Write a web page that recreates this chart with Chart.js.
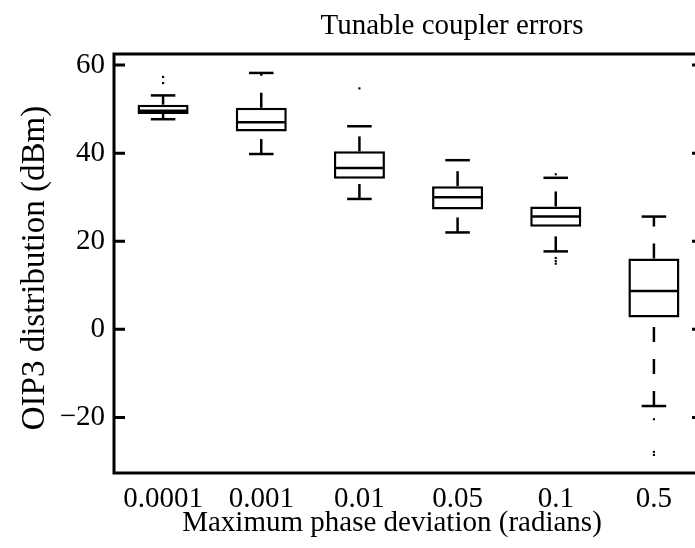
<!DOCTYPE html>
<html>
<head>
<meta charset="utf-8">
<script src="https://cdn.jsdelivr.net/npm/chart.js@4/dist/chart.umd.min.js"></script>
<style>
  html, body { margin: 0; padding: 0; background: #fff; overflow: hidden; }
  canvas { display: block; }
</style>
</head>
<body>
<canvas id="box-chart" width="712" height="548"></canvas>
<script>
// Box plot values (dBm)
const categories = ['0.0001', '0.001', '0.01', '0.05', '0.1', '0.5'];
const lowerWhisker = [47.7, 39.8, 29.6, 22.0, 17.7, -17.4];
const q1 = [48.9, 44.9, 34.2, 27.2, 23.3, 2.7];
const medians = [49.6, 47.0, 36.6, 30.0, 25.6, 8.7];
const q3 = [51.0, 50.3, 40.4, 32.5, 27.9, 16.1];
const upperWhisker = [53.1, 58.2, 46.1, 38.4, 34.4, 25.6];
const outliers = [[57.3, 55.9], [], [54.7], [], [35.2, 16.2, 15.5, 14.9], [-20.4, -27.8, -28.5]];
const yTicks = [-20, 0, 20, 40, 60];

const FONT = 'Liberation Serif, Times New Roman, serif';

// whiskers, medians, caps, frame and inward ticks
const boxPlotPlugin = {
    id: 'boxPlot',
    afterDatasetsDraw(chart) {
        const ctx = chart.ctx;
        const x = chart.scales.x;
        const y = chart.scales.y;
        const area = chart.chartArea;
        const step = (area.right - area.left) / categories.length;
        ctx.save();
        ctx.strokeStyle = '#000';
        ctx.lineCap = 'butt';
        categories.forEach((c, i) => {
            const cx = x.getPixelForValue(i);
            const halfBox = step * 0.25 - 1;
            const halfCap = step * 0.125;
            // median
            ctx.lineWidth = 2.5;
            ctx.setLineDash([]);
            ctx.beginPath();
            ctx.moveTo(cx - halfBox, y.getPixelForValue(medians[i]));
            ctx.lineTo(cx + halfBox, y.getPixelForValue(medians[i]));
            ctx.stroke();
            // dashed whiskers, drawn upward from their lower end
            ctx.setLineDash([15, 17]);
            ctx.beginPath();
            ctx.moveTo(cx, y.getPixelForValue(q3[i]));
            ctx.lineTo(cx, y.getPixelForValue(upperWhisker[i]));
            ctx.stroke();
            ctx.beginPath();
            ctx.moveTo(cx, y.getPixelForValue(lowerWhisker[i]));
            ctx.lineTo(cx, y.getPixelForValue(q1[i]));
            ctx.stroke();
            // caps
            ctx.setLineDash([]);
            [upperWhisker[i], lowerWhisker[i]].forEach(v => {
                const py = y.getPixelForValue(v);
                ctx.beginPath();
                ctx.moveTo(cx - halfCap, py);
                ctx.lineTo(cx + halfCap, py);
                ctx.stroke();
            });
        });
        // axes box
        ctx.lineWidth = 3;
        ctx.strokeRect(area.left, area.top, area.right - area.left, area.bottom - area.top);
        // ticks pointing inward on left and right
        yTicks.forEach(t => {
            const py = y.getPixelForValue(t);
            ctx.beginPath();
            ctx.moveTo(area.left, py);
            ctx.lineTo(area.left + 11, py);
            ctx.moveTo(area.right, py);
            ctx.lineTo(area.right - 11, py);
            ctx.stroke();
        });
        ctx.restore();
    },
    afterDraw(chart) {
        const ctx = chart.ctx;
        ctx.save();
        ctx.fillStyle = '#000';
        ctx.textAlign = 'center';
        ctx.textBaseline = 'alphabetic';
        ctx.font = '29px ' + FONT;
        ctx.fillText('Tunable coupler errors', 452, 34);
        ctx.fillText('Maximum phase deviation (radians)', 392, 531);
        ctx.translate(44, 268);
        ctx.rotate(-Math.PI / 2);
        ctx.font = '33px ' + FONT;
        ctx.fillText('OIP3 distribution (dBm)', 0, 0);
        ctx.restore();
    }
};

const outlierPoints = [];
outliers.forEach((list, i) => list.forEach(v => outlierPoints.push({ x: categories[i], y: v })));

new Chart(document.getElementById('box-chart'), {
    type: 'bar',
    data: {
        labels: categories,
        datasets: [{
            label: 'IQR',
            data: categories.map((c, i) => [q1[i], q3[i]]),
            backgroundColor: '#fff',
            borderColor: '#000',
            borderWidth: 2.5,
            borderSkipped: false,
            barPercentage: 0.52,
            categoryPercentage: 1.0,
            order: 2
        }, {
            type: 'line',
            label: 'outliers',
            data: outlierPoints,
            showLine: false,
            pointStyle: 'rect',
            pointRadius: 1.5,
            pointBackgroundColor: '#000',
            pointBorderWidth: 0,
            order: 1
        }]
    },
    options: {
        responsive: false,
        animation: false,
        layout: { padding: { top: 54, right: 9, left: 0, bottom: 0 } },
        plugins: {
            legend: { display: false },
            tooltip: { enabled: false },
            title: { display: false }
        },
        scales: {
            x: {
                type: 'category',
                offset: true,
                grid: { display: false, drawTicks: false },
                border: { display: false },
                ticks: {
                    color: '#000',
                    padding: 9,
                    maxRotation: 0,
                    autoSkip: false,
                    font: { family: FONT, size: 29 }
                },
                afterFit(scale) { scale.height = 75; }
            },
            y: {
                min: -32.6,
                max: 62.5,
                grid: { display: false, drawTicks: false },
                border: { display: false },
                afterBuildTicks(scale) { scale.ticks = yTicks.map(v => ({ value: v })); },
                ticks: {
                    color: '#000',
                    padding: 9,
                    font: { family: FONT, size: 29 },
                    callback: v => String(v).replace('-', '\u2212')
                },
                afterFit(scale) { scale.width = 114; }
            }
        }
    },
    plugins: [boxPlotPlugin]
});
</script>
</body>
</html>
